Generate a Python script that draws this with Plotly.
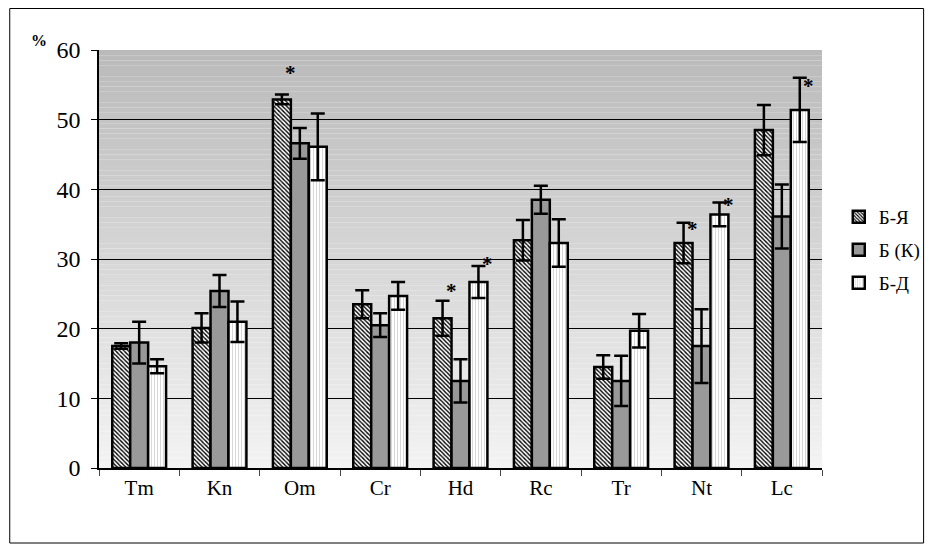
import plotly.graph_objects as go

# ---- data ----
categories = ["Tm", "Kn", "Om", "Cr", "Hd", "Rc", "Tr", "Nt", "Lc"]
series_names = ["Б-Я", "Б (К)", "Б-Д"]
b_ya = [17.5, 20.1, 52.9, 23.5, 21.5, 32.7, 14.5, 32.3, 48.5]
b_ya_err = [0.4, 2.1, 0.7, 2.0, 2.5, 2.9, 1.7, 2.9, 3.6]
b_k = [18.0, 25.4, 46.6, 20.5, 12.5, 38.5, 12.5, 17.5, 36.1]
b_k_err = [3.0, 2.3, 2.2, 1.7, 3.1, 2.0, 3.6, 5.3, 4.6]
b_d = [14.6, 21.0, 46.1, 24.7, 26.7, 32.3, 19.7, 36.4, 51.4]
b_d_err = [1.0, 2.9, 4.8, 2.0, 2.3, 3.4, 2.4, 1.7, 4.6]
# significance marks: (category, series index, level)
star_cats = ["Om", "Hd", "Hd", "Nt", "Nt", "Lc"]
star_series = [0, 0, 2, 0, 2, 2]
star_levels = [57.5, 26.3, 30.1, 35.1, 38.6, 55.7]
y_ticks = [0, 10, 20, 30, 40, 50, 60]

FONT = "Liberation Serif"

values = [b_ya, b_k, b_d]
errors = [b_ya_err, b_k_err, b_d_err]
patterns = [
    dict(shape="\\", size=3, solidity=0.45, fgcolor="black", bgcolor="white", fillmode="replace"),
    dict(shape="", fgcolor="#999999", bgcolor="#999999"),
    dict(shape="|", size=3, solidity=0.3, fgcolor="#d2d2d2", bgcolor="white", fillmode="replace"),
]
colors = ["white", "#999999", "white"]
legend_ids = ["legend", "legend2", "legend3"]

fig = go.Figure()
for i in range(3):
    fig.add_trace(go.Bar(
        x=categories, y=values[i], name=series_names[i],
        marker=dict(color=colors[i], pattern=patterns[i],
                    line=dict(color="black", width=2.5)),
        error_y=dict(type="data", array=errors[i], visible=True,
                     color="black", thickness=2.5, width=7),
        legend=legend_ids[i], showlegend=True,
    ))

# gradient background of plot area
n = 80
for k in range(n):
    t = (k + 0.5) / n
    c = int(round(243 - (243 - 186) * t))
    fig.add_shape(type="rect", xref="x domain", yref="y domain",
                  x0=0, x1=1, y0=k / n, y1=(k + 1) / n,
                  fillcolor=f"rgb({c},{c},{c})", line=dict(width=0),
                  layer="below")

# page has an 8px body margin; work in page pixels and convert
OFF = 8
W, H = 929, 541
PL, PR, PT, PB = 99, 832, 50, 468   # plot area in page pixels
L, T = PL - OFF, PT - OFF
R, B = W - (PR - OFF), H - (PB - OFF)
pw, ph = PR - PL, PB - PT
def px(xp): return (xp - PL) / pw
def py(yp): return (PB - yp) / ph

fig.add_shape(type="rect", xref="paper", yref="paper",
              x0=px(8.5), x1=px(935), y0=py(543), y1=py(8.5),
              line=dict(color="black", width=1), fillcolor="rgba(0,0,0,0)")

# significance stars
bar_px = 18
for c, s, lv in zip(star_cats, star_series, star_levels):
    fig.add_annotation(x=c, y=lv, xref="x", yref="y", text="<b>*</b>",
                       showarrow=False, xshift=(s - 1) * bar_px + 9, yshift=-6,
                       font=dict(family=FONT, size=21, color="black"))

fig.add_annotation(x=px(28), y=py(30), xref="paper", yref="paper",
                   text="<b>%</b>", showarrow=False,
                   font=dict(family=FONT, size=16, color="black"))

legend_y = [217, 250, 283]
leg = {}
for lid, ly in zip(legend_ids, legend_y):
    leg[lid] = dict(x=px(849), y=py(ly), xanchor="left", yanchor="middle",
                    bgcolor="rgba(0,0,0,0)", itemwidth=30,
                    font=dict(family=FONT, size=19, color="black"))

fig.update_layout(
    width=W, height=H,
    margin=dict(l=L, r=R, t=T, b=B, pad=0),
    paper_bgcolor="white", plot_bgcolor="rgba(0,0,0,0)",
    barmode="group", bargap=0.33, bargroupgap=0,
    showlegend=True,
    font=dict(family=FONT, color="black"),
    **leg,
)
fig.update_xaxes(showline=True, linecolor="black", linewidth=1.5,
                 ticks="outside", tickson="boundaries", ticklen=6,
                 tickcolor="#444", showgrid=False,
                 tickfont=dict(family=FONT, size=21, color="black"))
fig.update_yaxes(range=[0, 60], tickvals=y_ticks, showline=True,
                 linecolor="black", linewidth=1.5, ticks="outside",
                 ticklen=6, tickcolor="black", showgrid=True,
                 gridcolor="black", gridwidth=1, zeroline=False,
                 ticklabelstandoff=6,
                 tickfont=dict(family=FONT, size=24, color="black"))

fig.write_html("out.html")
